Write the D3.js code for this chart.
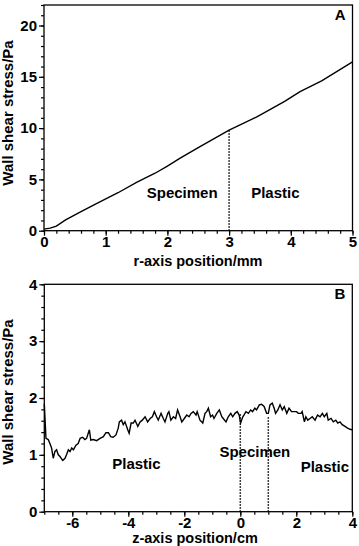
<!DOCTYPE html>
<html>
<head>
<meta charset="utf-8">
<script src="https://cdn.jsdelivr.net/npm/d3@7"></script>
<style>
  body { margin: 0; background: #fff; }
  text { font-family: "Liberation Sans", Arial, sans-serif; font-weight: bold; fill: #000; }
</style>
</head>
<body>
<script>
const width = 359
const height = 546

// Panel A: r-axis position (mm) vs wall shear stress (Pa)
const rPos = [0, 0.1, 0.2, 0.35, 0.6, 0.85, 1.2, 1.5, 1.8, 2.0, 2.2, 2.5, 3.0, 3.45, 3.9, 4.15, 4.5, 5.0]
const rStress = [0.15, 0.25, 0.45, 1.05, 1.85, 2.65, 3.7, 4.7, 5.6, 6.3, 7.05, 8.1, 9.8, 11.1, 12.6, 13.55, 14.6, 16.45]
const rBoundary = [3]
const rBoundaryTop = [9.8]

// Panel B: z-axis position (cm) vs wall shear stress (Pa)
const zPos = [-7.0, -6.94, -6.86, -6.80, -6.74, -6.68, -6.62, -6.56, -6.50, -6.44, -6.34, -6.26, -6.20, -6.14, -6.08, -6.02,
  -5.96, -5.87, -5.79, -5.72, -5.63, -5.55, -5.49, -5.39, -5.34, -5.25, -5.13, -5.01, -4.89, -4.80, -4.71, -4.63, -4.54,
  -4.44, -4.36, -4.32, -4.24, -4.18, -4.12, -4.02, -3.97, -3.90, -3.82, -3.76, -3.66, -3.58, -3.50, -3.40, -3.31, -3.22,
  -3.14, -3.07, -2.99, -2.93, -2.83, -2.75, -2.69, -2.59, -2.55, -2.48, -2.39, -2.31, -2.24, -2.15, -2.09, -2.00, -1.91,
  -1.83, -1.76, -1.68, -1.58, -1.54, -1.44, -1.34, -1.26, -1.20, -1.14, -1.06, -0.99, -0.94, -0.84, -0.75, -0.66, -0.61,
  -0.51, -0.43, -0.34, -0.27, -0.19, -0.11, -0.04, 0.01, 0.09, 0.13, 0.20, 0.29, 0.37, 0.44, 0.52, 0.58, 0.68, 0.76,
  0.85, 0.94, 1.00, 1.06, 1.14, 1.21, 1.26, 1.34, 1.42, 1.50, 1.57, 1.66, 1.74, 1.83, 1.93, 2.01, 2.07, 2.17, 2.21,
  2.29, 2.34, 2.41, 2.49, 2.57, 2.67, 2.76, 2.85, 2.93, 3.00, 3.09, 3.14, 3.24, 3.32, 3.41, 3.48, 3.56, 3.64, 3.74,
  3.83, 3.92, 4.0]
const zStress = [1.9, 1.29, 1.27, 1.20, 1.12, 0.94, 1.06, 1.09, 1.00, 0.97, 0.90, 0.94, 1.01, 1.09, 1.06, 1.12,
  1.09, 1.17, 1.20, 1.29, 1.31, 1.27, 1.29, 1.44, 1.26, 1.27, 1.25, 1.29, 1.32, 1.39, 1.39, 1.32, 1.31,
  1.35, 1.47, 1.58, 1.61, 1.53, 1.58, 1.44, 1.38, 1.56, 1.56, 1.61, 1.50, 1.58, 1.61, 1.67, 1.58, 1.64,
  1.67, 1.76, 1.67, 1.61, 1.73, 1.64, 1.58, 1.73, 1.76, 1.61, 1.67, 1.64, 1.79, 1.67, 1.58, 1.64, 1.70,
  1.67, 1.73, 1.76, 1.70, 1.76, 1.61, 1.56, 1.73, 1.76, 1.82, 1.67, 1.70, 1.64, 1.73, 1.79, 1.67, 1.64,
  1.58, 1.67, 1.73, 1.67, 1.73, 1.76, 1.70, 1.56, 1.67, 1.70, 1.76, 1.73, 1.79, 1.76, 1.82, 1.79, 1.88, 1.89,
  1.85, 1.73, 1.73, 1.88, 1.91, 1.82, 1.73, 1.79, 1.88, 1.79, 1.85, 1.73, 1.82, 1.76, 1.76, 1.76, 1.73, 1.73, 1.76,
  1.58, 1.67, 1.61, 1.64, 1.67, 1.61, 1.70, 1.67, 1.73, 1.67, 1.73, 1.61, 1.64, 1.58, 1.61, 1.56, 1.58, 1.53, 1.50,
  1.47, 1.45, 1.44]
const zBoundary = [0, 1]
const zBoundaryTop = [1.72, 1.68]

const svg = d3.select('body').append('svg').attr('width', width).attr('height', height)

// Escalas
const xA = d3.scaleLinear().domain([0, 5]).range([44, 352.5])
const yA = d3.scaleLinear().domain([0, 22]).range([230.7, 5])
const xB = d3.scaleLinear().domain([-7, 4]).range([44.3, 352.3])
const yB = d3.scaleLinear().domain([0, 4]).range([511.7, 284.3])

// hyphen minus like the original figure
const fmt = d => String(d)

function panel(x, y, opts) {
  const g = svg.append('g')
  const [x0, x1] = x.range()
  const [y0, y1] = y.range()

  // minor ticks
  g.append('g').attr('transform', `translate(0,${y0})`)
    .call(d3.axisBottom(x).tickValues(opts.xMinor).tickSize(3).tickFormat(''))
  g.append('g').attr('transform', `translate(${x0},0)`)
    .call(d3.axisLeft(y).tickValues(opts.yMinor).tickSize(3).tickFormat(''))

  // major ticks
  g.append('g').attr('transform', `translate(0,${y0})`)
    .call(d3.axisBottom(x).tickValues(opts.xMajor).tickSize(5).tickPadding(0.5).tickFormat(fmt))
  g.append('g').attr('transform', `translate(${x0},0)`)
    .call(d3.axisLeft(y).tickValues(opts.yMajor).tickSize(5).tickPadding(2).tickFormat(fmt))

  g.selectAll('.domain').remove()
  g.selectAll('.tick line').attr('stroke', '#000').attr('stroke-width', 1.2)
  g.selectAll('.tick text').style('font-size', '15px').style('font-family', '"Liberation Sans", Arial, sans-serif')
    .style('font-weight', 'bold')

  // frame
  g.append('rect')
    .attr('x', x0).attr('y', y1).attr('width', x1 - x0).attr('height', y0 - y1)
    .attr('fill', 'none').attr('stroke', '#000').attr('stroke-width', 1.3)

  // boundary dotted lines
  opts.bound.forEach((b, i) => {
    g.append('line')
      .attr('x1', x(b)).attr('x2', x(b))
      .attr('y1', y0).attr('y2', y(opts.boundTop[i]))
      .attr('stroke', '#000').attr('stroke-width', 1.5).attr('stroke-dasharray', '1.5,1.5')
  })

  // data line
  const line = d3.line().x(d => x(d[0])).y(d => y(d[1]))
  g.append('path')
    .datum(d3.zip(opts.xs, opts.ys))
    .attr('d', line)
    .attr('fill', 'none').attr('stroke', '#000').attr('stroke-width', 1.4)

  // region labels
  opts.labels.forEach(l => {
    g.append('text').attr('x', x(l[1])).attr('y', y(l[2]))
      .attr('text-anchor', 'middle').style('font-size', '15px').text(l[0])
  })

  // panel letter
  g.append('text').attr('x', x1 - 7).attr('y', y1 + 15)
    .attr('text-anchor', 'end').style('font-size', '15px').text(opts.letter)

  // axis titles
  g.append('text').attr('x', opts.xTitleX).attr('y', opts.xTitleY)
    .attr('text-anchor', 'middle').style('font-size', '14.5px').text(opts.xTitle)
  g.append('text')
    .attr('transform', `translate(13,${opts.yTitleY}) rotate(-90)`)
    .attr('text-anchor', 'middle').style('font-size', '15px').text(opts.yTitle)
}

panel(xA, yA, {
  xMajor: d3.range(0, 6, 1),
  xMinor: d3.range(0, 5.01, 0.2),
  yMajor: d3.range(0, 21, 5),
  yMinor: d3.range(0, 22.01, 1),
  xs: rPos, ys: rStress,
  bound: rBoundary, boundTop: rBoundaryTop,
  labels: [['Specimen', 2.24, 3.2], ['Plastic', 3.75, 3.2]],
  letter: 'A',
  xTitle: 'r-axis position/mm', xTitleX: 198, xTitleY: 266,
  yTitle: 'Wall shear stress/Pa', yTitleY: 113
})

panel(xB, yB, {
  xMajor: d3.range(-6, 5, 2),
  xMinor: d3.range(-7, 4.01, 0.5),
  yMajor: d3.range(0, 5, 1),
  yMinor: d3.range(0, 4.01, 0.2),
  xs: zPos, ys: zStress,
  bound: zBoundary, boundTop: zBoundaryTop,
  labels: [['Plastic', -3.71, 0.75], ['Specimen', 0.52, 0.97], ['Plastic', 3.02, 0.69]],
  letter: 'B',
  xTitle: 'z-axis position/cm', xTitleX: 195, xTitleY: 543,
  yTitle: 'Wall shear stress/Pa', yTitleY: 392
})
</script>
</body>
</html>
